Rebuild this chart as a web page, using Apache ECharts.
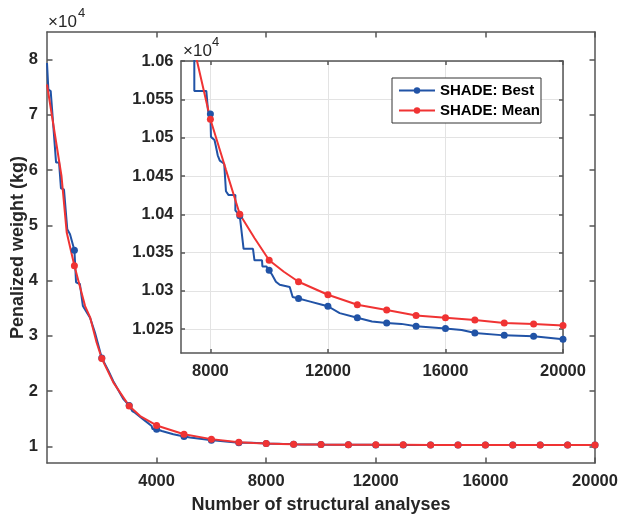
<!DOCTYPE html>
<html><head><meta charset="utf-8">
<script src="https://cdn.jsdelivr.net/npm/echarts@6/dist/echarts.min.js"></script>
<style>html,body{margin:0;padding:0;background:#fff}#c{width:619px;height:518px}</style>
</head><body><div id="c"></div>
<script>
// ---- data (kg vs number of structural analyses) ----
const bestX = [0, 50, 135, 330, 440, 510, 620, 740, 840, 1000, 1060, 1200, 1310, 1570, 1750, 2000, 2240, 2420, 2790, 3000, 3110, 3210, 3515, 3820, 3850, 4000, 4190, 4610, 5000, 5220, 5950, 6000, 7000, 7453, 7453, 7861, 7920, 8000, 8020, 8020, 8140, 8180, 8250, 8320, 8470, 8530, 8530, 8620, 8850, 8850, 9000, 9130, 9450, 9500, 9757, 9770, 9904, 10000, 10100, 10230, 10360, 10700, 10800, 11000, 11400, 11800, 12000, 12400, 12900, 13000, 13500, 14000, 14500, 15000, 16000, 16550, 16900, 17000, 18000, 19000, 20000];
const bestY = [79400, 74600, 74300, 61400, 61400, 56700, 56500, 49300, 48400, 45500, 39700, 39400, 35400, 33300, 30600, 26000, 23700, 21800, 18550, 17400, 16400, 16100, 14900, 13700, 13150, 13100, 12800, 12200, 11800, 11600, 11150, 11120, 10680, 10660, 10561, 10561, 10535, 10531, 10530, 10501, 10497, 10490, 10477, 10470, 10466, 10466, 10430, 10425, 10425, 10405, 10398, 10355, 10355, 10340, 10340, 10332, 10332, 10327, 10321, 10312, 10308, 10305, 10292, 10290, 10286, 10282, 10280, 10271, 10266, 10265, 10260, 10258, 10257, 10254, 10251, 10249, 10246, 10245, 10242, 10241, 10237];
const meanX = [0, 530, 720, 1000, 1390, 1570, 1810, 2000, 2420, 3000, 3400, 4000, 5000, 6000, 7000, 7545, 8000, 8530, 9000, 9500, 10000, 10500, 11000, 12000, 13000, 14000, 15000, 16000, 17000, 18000, 19000, 20000];
const meanY = [75500, 58900, 48700, 42700, 35400, 33400, 28800, 25900, 21600, 17300, 15500, 13800, 12200, 11320, 10760, 10600, 10524, 10458, 10400, 10369, 10340, 10325, 10312, 10295, 10282, 10275, 10268, 10265, 10262, 10258, 10257, 10255];
const mainXTicks = [4000, 8000, 12000, 16000, 20000];
const mainYTicks = [10000, 20000, 30000, 40000, 50000, 60000, 70000, 80000];
const insetXTicks = [8000, 12000, 16000, 20000];
const insetYTicks = [10250, 10300, 10350, 10400, 10450, 10500, 10550, 10600];
const seriesNames = ['SHADE: Best', 'SHADE: Mean'];

const BLUE = '#2153a6', RED = '#f03333';
const FONT = 'Liberation Sans, Arial, sans-serif';
const TXT = '#262626';
const AX = {color: '#555', width: 1.5};

function pts(xs, ys) {
  return xs.map((x, i) => ({value: [x, ys[i]], symbol: (x % 1000 === 0 && x > 0) ? 'circle' : 'none'}));
}
function lbl(extra) {
  return Object.assign({fontSize: 16.5, fontWeight: 'bold', color: TXT, fontFamily: FONT}, extra);
}
function xAx(grid, min, max, ticks, pos, showLabel, len, extra) {
  return Object.assign({
    gridIndex: grid, type: 'value', min: min, max: max, position: pos,
    axisLine: {show: true, onZero: false, lineStyle: AX},
    axisTick: {show: true, inside: true, length: len, customValues: ticks, lineStyle: AX},
    axisLabel: lbl({show: showLabel, customValues: ticks, formatter: v => String(v), margin: 10}),
    splitLine: {show: false}
  }, extra || {});
}
function yAx(grid, min, max, ticks, pos, showLabel, len, fmt, margin, extra) {
  return Object.assign({
    gridIndex: grid, type: 'value', min: min, max: max, position: pos,
    axisLine: {show: true, onZero: false, lineStyle: AX},
    axisTick: {show: true, inside: true, length: len, customValues: ticks, lineStyle: AX},
    axisLabel: lbl({show: showLabel, customValues: ticks, formatter: fmt, margin: margin}),
    splitLine: {show: false}
  }, extra || {});
}
const grid1 = {lineStyle: {color: '#e3e3e3', width: 1}};

const chart = echarts.init(document.getElementById('c'), null, {renderer: 'canvas'});
chart.setOption({
  animation: false,
  backgroundColor: '#fff',
  grid: [
    {left: 47, top: 32, width: 548, height: 431, outerBoundsMode: 'none', containLabel: false},
    {left: 181, top: 61, width: 382, height: 292, outerBoundsMode: 'none', containLabel: false,
      show: true, backgroundColor: '#fff', borderWidth: 0}
  ],
  legend: {
    data: seriesNames, orient: 'vertical', left: 392, top: 78,
    padding: [5, 1, 5, 6], itemGap: 5, itemWidth: 36, itemHeight: 8,
    backgroundColor: '#fff', borderColor: '#333', borderWidth: 1, borderRadius: 0,
    selectedMode: false,
    textStyle: {fontSize: 15, fontWeight: 'bold', color: '#000', fontFamily: FONT}
  },
  xAxis: [
    xAx(0, 0, 20000, mainXTicks, 'bottom', true, 5.5, {
      name: 'Number of structural analyses', nameLocation: 'middle', nameGap: 33,
      nameTextStyle: {fontSize: 18, fontWeight: 'bold', color: TXT, fontFamily: FONT}
    }),
    xAx(0, 0, 20000, mainXTicks, 'top', false, 5.5),
    xAx(1, 7000, 20000, insetXTicks, 'bottom', true, 4, {splitLine: Object.assign({show: true}, grid1)}),
    xAx(1, 7000, 20000, insetXTicks, 'top', false, 4)
  ],
  yAxis: [
    yAx(0, 7000, 85000, mainYTicks, 'left', true, 5.5, v => String(v / 10000), 9, {
      name: 'Penalized weight (kg)', nameLocation: 'middle', nameGap: 20, nameMoveOverlap: false,
      nameTextStyle: {fontSize: 18, fontWeight: 'bold', color: TXT, fontFamily: FONT}
    }),
    yAx(0, 7000, 85000, mainYTicks, 'right', false, 5.5, v => '', 9),
    yAx(1, 10219, 10600, insetYTicks, 'left', true, 4, v => String(parseFloat((v / 10000).toFixed(4))), 7.5,
      {splitLine: Object.assign({show: true}, grid1)}),
    yAx(1, 10219, 10600, insetYTicks, 'right', false, 4, v => '', 7.5)
  ],
  series: [
    {name: seriesNames[0], type: 'line', xAxisIndex: 0, yAxisIndex: 0, data: pts(bestX, bestY),
      symbol: 'circle', symbolSize: 7, lineStyle: {width: 2, color: BLUE}, itemStyle: {color: BLUE}, emphasis: {disabled: true}},
    {name: seriesNames[1], type: 'line', xAxisIndex: 0, yAxisIndex: 0, data: pts(meanX, meanY),
      symbol: 'circle', symbolSize: 7, lineStyle: {width: 2, color: RED}, itemStyle: {color: RED}, emphasis: {disabled: true}},
    {name: seriesNames[0], type: 'line', xAxisIndex: 2, yAxisIndex: 2, data: pts(bestX, bestY),
      symbol: 'circle', symbolSize: 7, lineStyle: {width: 2, color: BLUE}, itemStyle: {color: BLUE}, emphasis: {disabled: true}},
    {name: seriesNames[1], type: 'line', xAxisIndex: 2, yAxisIndex: 2, data: pts(meanX, meanY),
      symbol: 'circle', symbolSize: 7, lineStyle: {width: 2, color: RED}, itemStyle: {color: RED}, emphasis: {disabled: true}}
  ],
  graphic: [
    {type: 'text', left: 48, top: 14, style: {text: '×10', fontSize: 17, fontFamily: FONT, fill: TXT}},
    {type: 'text', left: 78, top: 7, style: {text: '4', fontSize: 13, fontFamily: FONT, fill: TXT}},
    {type: 'text', left: 183, top: 43, style: {text: '×10', fontSize: 17, fontFamily: FONT, fill: TXT}},
    {type: 'text', left: 212, top: 36, style: {text: '4', fontSize: 13, fontFamily: FONT, fill: TXT}}
  ]
});
</script></body></html>
